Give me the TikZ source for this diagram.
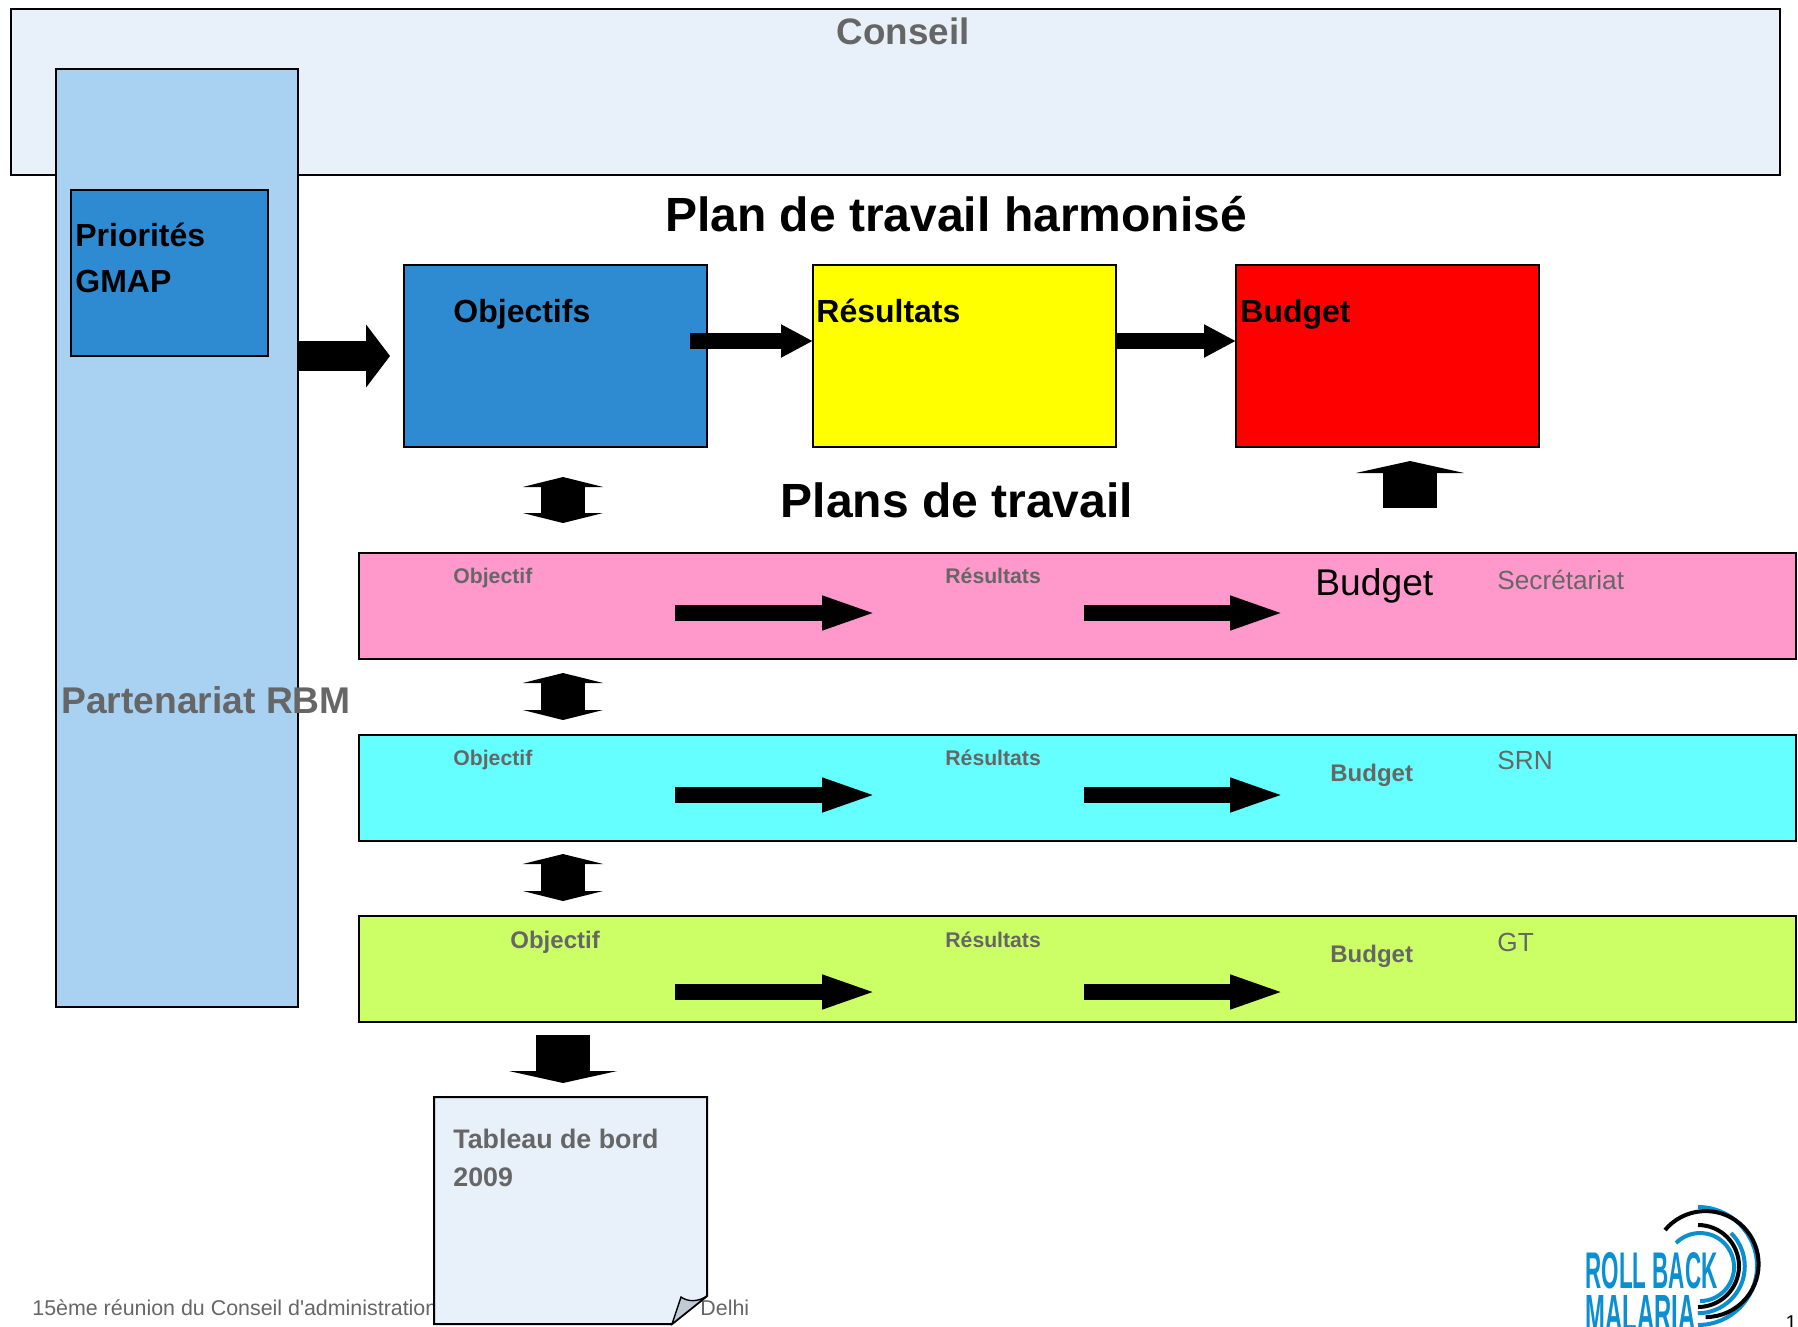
\documentclass[tikz,border=0pt]{standalone}
\usepackage{fontspec}
\setmainfont{Liberation Sans}
\usetikzlibrary{arrows.meta}
\definecolor{paleblue}{HTML}{E8F0FA}
\definecolor{skyblue}{HTML}{A9D1F2}
\definecolor{midblue}{HTML}{2E8BD1}
\definecolor{puryellow}{HTML}{FFFF00}
\definecolor{purred}{HTML}{FF0000}
\definecolor{rowpink}{HTML}{FF99CC}
\definecolor{rowcyan}{HTML}{66FFFF}
\definecolor{rowgreen}{HTML}{CCFF66}
\definecolor{textgrey}{HTML}{666666}
\definecolor{foldgrey}{HTML}{C0CAD4}
\definecolor{logoblue}{HTML}{0A8FD1}
\tikzset{
  panel/.style={draw=black,line width=1pt,anchor=north west,inner sep=0pt,outer sep=0pt},
  toprow/.style={panel,minimum width=303*.5pt,minimum height=91pt},
  planrow/.style={panel,minimum width=1437*.5pt,minimum height=105.5*.5pt},
  lbl/.style={anchor=west,inner sep=0pt,text height=1.5ex,text depth=.25ex},
  boldhead/.style={lbl,font=\fontsize{16}{19}\selectfont\bfseries},
  boldsmall/.style={lbl,text=textgrey,font=\fontsize{10.6}{13}\selectfont\bfseries},
  boldbudget/.style={lbl,text=textgrey,font=\fontsize{12}{14}\selectfont\bfseries},
  plainrow/.style={lbl,text=textgrey,font=\fontsize{13.1}{15}\selectfont},
  title/.style={anchor=center,inner sep=0pt,text height=1.5ex,text depth=.25ex,font=\fontsize{24}{28}\selectfont\bfseries},
  flowarrow/.style={line width=8pt,-{Triangle[length=16pt,width=15.5pt]}},
  rowarrow/.style={line width=8pt,-{Triangle[length=28.5pt,width=15pt]}},
  twoway/.style={line width=22pt,{Triangle[length=5pt,width=40pt]}-{Triangle[length=5pt,width=40pt]}},
  blockup/.style={line width=27pt,-{Triangle[length=6pt,width=54pt]}},
  logoarc/.style={line width=2pt},
}
\begin{document}
\begin{tikzpicture}[x=.5pt,y=-.5pt]
\useasboundingbox (0,0) rectangle (1798,1327);
\node (conseil) [panel,fill=paleblue,minimum width=1769*.5pt,minimum height=166*.5pt] at (11,9) {};
\node (conseil-t) [title,text=textgrey,font=\fontsize{18.4}{22}\selectfont\bfseries] at (903,38) {Conseil};
\node (partenariat) [panel,fill=skyblue,minimum width=242*.5pt,minimum height=938*.5pt] at (56,69) {};
\node (gmap) [panel,fill=midblue,minimum width=197*.5pt,minimum height=166*.5pt] at (71,190) {};
\node (gmap-a) [boldhead] at (75,240) {Priorités};
\node (gmap-b) [boldhead] at (75,286) {GMAP};
\node (partenariat-t) [lbl,text=textgrey,font=\fontsize{18.6}{22}\selectfont\bfseries] at (61,707) {Partenariat RBM};
\node (plan-t) [title] at (956,225) {Plan de travail harmonisé};
\node (plans-t) [title] at (957,511) {Plans de travail};
% top row
\node (objectifs) [toprow,fill=midblue] at (404,265) {};
\node (resultats) [toprow,fill=puryellow] at (813,265) {};
\node (budget) [toprow,fill=purred] at (1236,265) {};
\node (objectifs-t) [boldhead] at (453,316) {Objectifs};
\node (resultats-t) [boldhead] at (816,316) {Résultats};
\node (budget-t) [boldhead] at (1240,316) {Budget};
% rows of plans
\node (secretariat) [planrow,fill=rowpink] at (359,553) {};
\node (srn) [planrow,fill=rowcyan] at (359,735) {};
\node (gt) [planrow,fill=rowgreen] at (359,916) {};
\node (obj-a) [boldsmall] at (453,577) {Objectif};
\node (res-a) [boldsmall] at (945,577) {Résultats};
\node (bud-a) [lbl,font=\fontsize{18.6}{22}\selectfont] at (1315,589) {Budget};
\node (sec-a) [plainrow] at (1497,583) {Secrétariat};
\node (obj-b) [boldsmall] at (453,759) {Objectif};
\node (res-b) [boldsmall] at (945,759) {Résultats};
\node (bud-b) [boldbudget] at (1330,775) {Budget};
\node (sec-b) [plainrow] at (1497,763) {SRN};
\node (obj-c) [boldbudget] at (510,942) {Objectif};
\node (res-c) [boldsmall] at (945,941) {Résultats};
\node (bud-c) [boldbudget] at (1330,956) {Budget};
\node (sec-c) [plainrow] at (1497,945) {GT};
% arrows
\coordinate (gmap-out) at (298,356);
\coordinate (obj-in) at (390,356);
\draw [line width=15pt,-{Triangle[length=12pt,width=31pt]}] (gmap-out) -- (obj-in);
\coordinate (obj-out) at (690,341);
\coordinate (res-in) at (813,341);
\draw [flowarrow] (obj-out) -- (res-in);
\coordinate (res-out) at (1115,341);
\coordinate (bud-in) at (1236,341);
\draw [flowarrow] (res-out) -- (bud-in);
\coordinate (up-a) at (1410,508);
\coordinate (up-b) at (1410,461);
\draw [blockup] (up-a) -- (up-b);
\coordinate (two-a) at (563,477);
\coordinate (two-b) at (563,523);
\draw [twoway] (two-a) -- (two-b);
\coordinate (two-c) at (563,673);
\coordinate (two-d) at (563,720);
\draw [twoway] (two-c) -- (two-d);
\coordinate (two-e) at (563,854);
\coordinate (two-f) at (563,901);
\draw [twoway] (two-e) -- (two-f);
\coordinate (down-a) at (563,1035);
\coordinate (down-b) at (563,1083);
\draw [blockup] (down-a) -- (down-b);
\coordinate (ra1) at (675,613);
\coordinate (ra2) at (879,613);
\coordinate (ra3) at (1084,613);
\coordinate (ra4) at (1287,613);
\draw [rowarrow] (ra1) -- (ra2);
\draw [rowarrow] (ra3) -- (ra4);
\coordinate (rb1) at (675,795);
\coordinate (rb2) at (879,795);
\coordinate (rb3) at (1084,795);
\coordinate (rb4) at (1287,795);
\draw [rowarrow] (rb1) -- (rb2);
\draw [rowarrow] (rb3) -- (rb4);
\coordinate (rc1) at (675,992);
\coordinate (rc2) at (879,992);
\coordinate (rc3) at (1084,992);
\coordinate (rc4) at (1287,992);
\draw [rowarrow] (rc1) -- (rc2);
\draw [rowarrow] (rc3) -- (rc4);
% footer and note
\node (foot-a) [lbl,text=textgrey,font=\fontsize{10.7}{12}\selectfont] at (32,1309) {15ème réunion du Conseil d\textquotesingle administration};
\node (foot-b) [lbl,text=textgrey,font=\fontsize{10.7}{12}\selectfont] at (700,1309) {Delhi};
\draw [line width=1pt,fill=paleblue] (434,1097) -- (707,1097) -- (707,1296) -- (672,1324) -- (434,1324) -- cycle;
\draw [line width=.7pt,fill=foldgrey] (672,1324) -- (681,1297) .. controls (688,1302) and (698,1302) .. (707,1296) -- cycle;
\node (tableau-a) [lbl,text=textgrey,font=\fontsize{13.4}{16}\selectfont\bfseries] at (453,1142) {Tableau de bord};
\node (tableau-b) [lbl,text=textgrey,font=\fontsize{13.4}{16}\selectfont\bfseries] at (453,1180) {2009};
% logo
\node (logo-a) [anchor=north west,inner sep=0pt,text=logoblue] at (1585,1252) {\resizebox{66pt}{18pt}{\bfseries ROLL BACK}};
\node (logo-b) [anchor=north west,inner sep=0pt,text=logoblue] at (1585,1295) {\resizebox{55pt}{18pt}{\bfseries MALARIA}};
\draw [logoarc,draw=logoblue] (1698,1207) arc[start angle=90,end angle=-90,radius=29.5pt];
\draw [logoarc] (1665,1230) arc[start angle=140,end angle=-90,radius=26.5pt];
\draw [logoarc,draw=logoblue] (1731,1233) arc[start angle=45,end angle=-90,radius=23.5pt];
\draw [logoarc] (1698,1225) arc[start angle=90,end angle=-90,radius=20.5pt];
\draw [logoarc,draw=logoblue] (1676,1243) arc[start angle=135,end angle=-90,radius=17pt];
\node (page) [anchor=north east,inner sep=0pt,font=\fontsize{10}{12}\selectfont] at (1797,1315) {1};
\end{tikzpicture}
\end{document}
